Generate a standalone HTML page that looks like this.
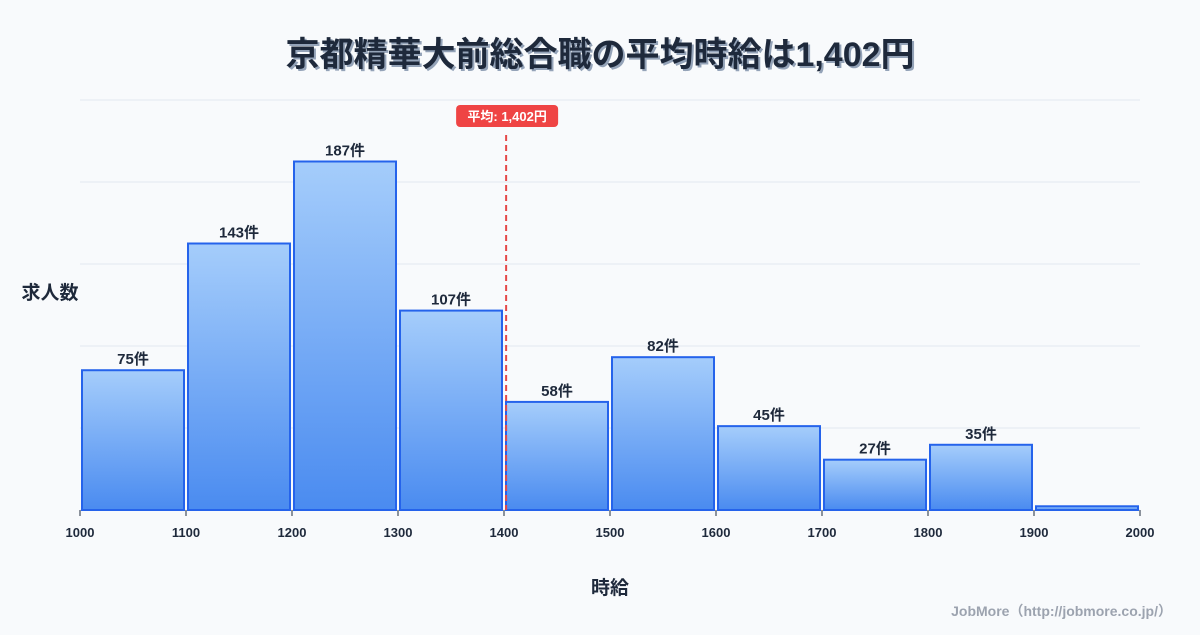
<!DOCTYPE html>
<html><head><meta charset="utf-8">
<style>
body{margin:0;background:#f8fafc;}
svg text{font-family:"Liberation Sans","Noto Sans CJK JP",sans-serif;}
</style></head>
<body>
<svg id="c" width="1200" height="630" xmlns="http://www.w3.org/2000/svg">
<defs>
<linearGradient id="g" x1="0" y1="0" x2="0" y2="1">
<stop offset="0" stop-color="#a5cdfb"/><stop offset="1" stop-color="#4a8bf0"/>
</linearGradient>
</defs>
<rect width="1200" height="630" fill="#f8fafc"/>
<text x="602" y="68" text-anchor="middle" font-size="34" font-weight="bold" fill="#94a3b8">京都精華大前総合職の平均時給は1,402円</text>
<text x="600" y="66" text-anchor="middle" font-size="34" font-weight="bold" fill="#1e293b">京都精華大前総合職の平均時給は1,402円</text>
<g id="grid"></g>
<g id="bars"></g>
<g id="xticks"></g>
<text x="50" y="299" text-anchor="middle" font-size="19" font-weight="bold" fill="#1e293b">求人数</text>
<text x="610" y="594" text-anchor="middle" font-size="19" font-weight="bold" fill="#1e293b">時給</text>
<text x="1172" y="616" text-anchor="end" font-size="14" font-weight="bold" fill="#9ca3af">JobMore（http://jobmore.co.jp/）</text>
<g id="mean"></g>
</svg>
<script>
const binStarts=[1000,1100,1200,1300,1400,1500,1600,1700,1800,1900];
const counts=[75,143,187,107,58,82,45,27,35,2];
const xTicks=[1000,1100,1200,1300,1400,1500,1600,1700,1800,1900,2000];
const yGrid=[0,44,88,132,176,220];
const meanValue=1402;
const binWidth=100;
const NS='http://www.w3.org/2000/svg';
const x=v=>80+(v-1000)*1.06;
const y=v=>510-v*410/220;
function mk(t,a,p){const e=document.createElementNS(NS,t);for(const k in a)e.setAttribute(k,a[k]);p.appendChild(e);return e;}
const grid=document.getElementById('grid');
yGrid.forEach(v=>{const l=mk('line',{x1:80,x2:1140,y1:y(v),y2:y(v),stroke:'#e2e8f0','stroke-width':1},grid);

});
const bars=document.getElementById('bars');
binStarts.forEach((b,i)=>{
const x0=x(b)+2,x1=x(b+binWidth)-2,t=y(counts[i]);
const r=mk('rect',{x:x0,y:t,width:x1-x0,height:510-t,fill:'url(#g)',stroke:'#2563eb','stroke-width':2},bars);


if(counts[i]>5){const tx=mk('text',{x:(x0+x1)/2,y:t-6,'text-anchor':'middle','font-size':15,'font-weight':'bold',fill:'#1e293b'},bars);
tx.textContent=counts[i]+'件';

}
});
const xt=document.getElementById('xticks');
xTicks.forEach(v=>{
const l=mk('line',{x1:x(v),x2:x(v),y1:510,y2:516,stroke:'#1e293b','stroke-width':1},xt);


const t=mk('text',{x:x(v),y:537,'text-anchor':'middle','font-size':13,'font-weight':'bold',fill:'#1e293b'},xt);
t.textContent=v;

});
const m=document.getElementById('mean');const mx=x(meanValue);
const ml=mk('line',{x1:mx,x2:mx,y1:135,y2:510,stroke:'#e54848','stroke-width':2,'stroke-dasharray':'6,4'},m);


const mb=mk('rect',{x:mx-50,y:105,width:102,height:22,rx:4,fill:'#ef4444'},m);


const mt=mk('text',{x:mx+1,y:121,'text-anchor':'middle','font-size':13,'font-weight':'bold',fill:'#fff'},m);
mt.textContent='平均: 1,402円';


</script>
</body></html>
